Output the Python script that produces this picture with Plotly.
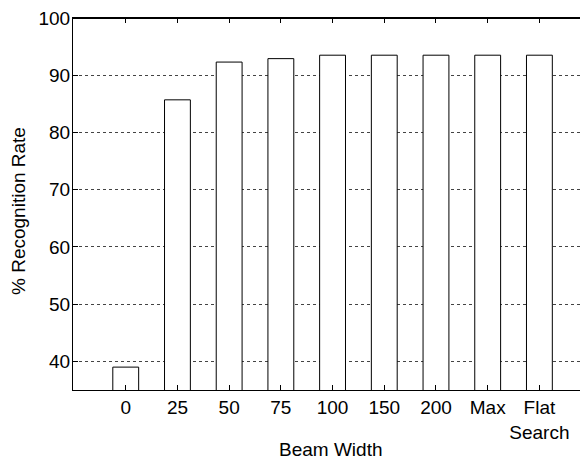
import plotly.graph_objects as go

categories = ["0", "25", "50", "75", "100", "150", "200", "Max", "Flat<br>Search"]
recognition_rate = [39.0, 85.7, 92.3, 92.9, 93.5, 93.5, 93.5, 93.5, 93.5]
y_ticks = [40, 50, 60, 70, 80, 90, 100]
x_title = "Beam Width"
y_title = "% Recognition Rate"

FONT = "Liberation Sans, Arial, Helvetica, sans-serif"

fig = go.Figure()
fig.add_trace(go.Bar(
    x=categories,
    y=recognition_rate,
    width=0.5,
    marker=dict(color="white", line=dict(color="black", width=1)),
    showlegend=False,
))

x_range = [-1.02, 8.94]

fig.update_layout(
    width=580,
    height=449,
    margin=dict(l=65, r=0, t=10, b=67),
    paper_bgcolor="white",
    plot_bgcolor="white",
    font=dict(family=FONT, size=19, color="black"),
    xaxis=dict(
        type="category",
        range=x_range,
        showline=True,
        linecolor="black",
        linewidth=1,
        mirror="ticks",
        ticks="inside",
        ticklen=5,
        tickcolor="black",
        showgrid=False,
        tickfont=dict(size=19),
        automargin=False,
    ),
    yaxis=dict(
        range=[35, 100],
        tickvals=y_ticks,
        showline=True,
        linecolor="black",
        linewidth=1,
        mirror=False,
        ticks="inside",
        ticklen=5,
        tickcolor="black",
        showgrid=True,
        gridcolor="#444444",
        griddash="dot",
        gridwidth=1,
        zeroline=False,
        tickfont=dict(size=19),
        ticklabelstandoff=-2,
        ticklabeloverflow="allow",
        automargin=False,
    ),
    shapes=[
        dict(type="line", xref="paper", yref="paper", x0=0, x1=1, y0=1, y1=1,
             line=dict(color="black", width=2), layer="above"),
    ],
    annotations=[
        dict(text=x_title, xref="paper", yref="paper", x=0.5, y=0,
             xanchor="center", yanchor="middle", yshift=-59, showarrow=False,
             font=dict(size=19)),
        dict(text=y_title, xref="paper", yref="paper", x=0, y=0.5,
             xanchor="center", yanchor="middle", xshift=-55, yshift=-7,
             textangle=-90, showarrow=False, font=dict(size=19)),
    ],
)

fig.write_html("out.html", config={"displayModeBar": False})
